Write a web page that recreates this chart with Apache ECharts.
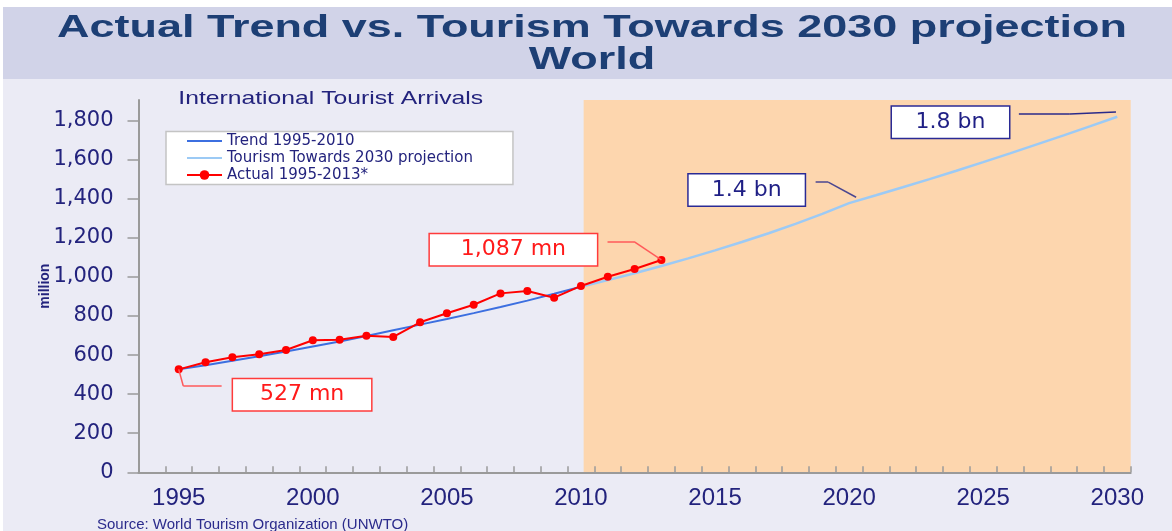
<!DOCTYPE html>
<html>
<head>
<meta charset="utf-8">
<script src="https://cdn.jsdelivr.net/npm/echarts@6/dist/echarts.min.js"></script>
<style>
  html, body { margin: 0; padding: 0; background: #ffffff; }
  #chart { width: 1172px; height: 531px; }
</style>
</head>
<body>
<div id="chart"></div>
<script>
// actual arrivals (million)
var actualYears = [1995, 1996, 1997, 1998, 1999, 2000, 2001, 2002, 2003, 2004, 2005, 2006, 2007, 2008, 2009, 2010, 2011, 2012, 2013];
var actualValues = [527, 563, 589, 604, 626, 676, 679, 699, 693, 768, 814, 858, 916, 928, 894, 954, 1001, 1041, 1087];

// trend 1995-2010
var trendYears = [1995, 1996, 1997, 1998, 1999, 2000, 2001, 2002, 2003, 2004, 2005, 2006, 2007, 2008, 2009, 2010];
var trendValues = [527, 548, 571, 594, 618, 644, 670, 698, 727, 756, 785, 815, 846, 879, 914, 950];

// Tourism Towards 2030 projection
var projYears = [2010, 2011, 2012, 2013, 2014, 2015, 2016, 2017, 2018, 2019, 2020, 2021, 2022, 2023, 2024, 2025, 2026, 2027, 2028, 2029, 2030];
var projValues = [950, 984, 1019, 1056, 1095, 1136, 1179, 1224, 1272, 1323, 1378, 1418, 1459, 1501, 1544, 1588, 1633, 1679, 1725, 1772, 1820];

// axis labels
var xLabelYears = [1995, 2000, 2005, 2010, 2015, 2020, 2025, 2030];
var xTickYears = Array.from({ length: 37 }, function (_, i) { return 1994.5 + i; });

// callouts
var calloutTexts = ['527 mn', '1,087 mn', '1.4 bn', '1.8 bn'];

function pairs(xs, ys) {
  return xs.map(function (x, i) { return [x, ys[i]]; });
}

var navy = '#23237d';
var redBox = {
  show: true, position: 'inside', color: '#ff1a1a',
  fontFamily: 'DejaVu Sans', fontSize: 22,
  backgroundColor: '#ffffff', borderColor: '#ff3b3b', borderWidth: 1.5,
  height: 31, lineHeight: 31, align: 'center', verticalAlign: 'middle', padding: 0
};
var navyBox = {
  show: true, position: 'inside', color: '#1f1f85',
  fontFamily: 'DejaVu Sans', fontSize: 22,
  backgroundColor: '#ffffff', borderColor: '#2a2a95', borderWidth: 1.5,
  height: 31, lineHeight: 31, align: 'center', verticalAlign: 'middle', padding: 0
};
function leader(a, b, color) {
  return [{ coord: a, lineStyle: { color: color, width: 1.5, type: 'solid' } }, { coord: b }];
}
var noDot = { color: 'rgba(0,0,0,0)', borderWidth: 0 };

var chart = echarts.init(document.getElementById('chart'));
chart.setOption({
  animation: false,
  backgroundColor: '#ebebf5',
  graphic: [
    { type: 'rect', left: 0, top: 0, shape: { width: 1172, height: 7 }, style: { fill: '#ffffff' }, silent: true },
    { type: 'rect', left: 0, top: 0, shape: { width: 3, height: 531 }, style: { fill: '#ffffff' }, silent: true },
    { type: 'rect', left: 3, top: 7, shape: { width: 1169, height: 72 }, style: { fill: '#d1d3e8' }, silent: true },
    {
      type: 'text', x: 592, y: 28.5, scaleX: 1.45, silent: true,
      style: { text: 'Actual Trend vs. Tourism Towards 2030 projection', font: 'bold 31px "Liberation Sans", Arial, sans-serif',
        fill: '#1d3f75', align: 'center', verticalAlign: 'middle', textAlign: 'center', textVerticalAlign: 'middle' }
    },
    {
      type: 'text', x: 592, y: 60, scaleX: 1.45, silent: true,
      style: { text: 'World', font: 'bold 31px "Liberation Sans", Arial, sans-serif',
        fill: '#1d3f75', align: 'center', verticalAlign: 'middle', textAlign: 'center', textVerticalAlign: 'middle' }
    },
    {
      type: 'text', x: 330.7, y: 99, scaleX: 1.3, silent: true,
      style: { text: 'International Tourist Arrivals', font: '19px "Liberation Sans", Arial, sans-serif',
        fill: navy, align: 'center', verticalAlign: 'middle', textAlign: 'center', textVerticalAlign: 'middle' }
    },
    {
      type: 'text', x: 97, y: 524.5, silent: true,
      style: { text: 'Source: World Tourism Organization (UNWTO)', font: '15px "Liberation Sans", Arial, sans-serif',
        fill: '#2b2b8c', align: 'left', verticalAlign: 'middle', textAlign: 'left', textVerticalAlign: 'middle' }
    }
  ],
  legend: {
    left: 166, top: 131.5, orient: 'vertical',
    backgroundColor: '#ffffff', borderColor: '#c4c4c4', borderWidth: 1.5, borderRadius: 0,
    padding: [2, 40, 2, 20], itemWidth: 35, itemHeight: 12, itemGap: 2,
    textStyle: { fontFamily: 'DejaVu Sans', fontSize: 15, color: navy },
    data: [
      { name: 'Trend 1995-2010', itemStyle: noDot },
      { name: 'Tourism Towards 2030 projection', itemStyle: noDot },
      { name: 'Actual 1995-2013*' }
    ]
  },
  grid: { left: 138.5, right: 41.3, top: 100, bottom: 58.7, containLabel: false },
  xAxis: {
    type: 'value', min: 1993.5, max: 2030.5, z: 5,
    axisLine: { show: true, lineStyle: { color: '#9a9a9a', width: 2 } },
    axisTick: { show: true, inside: true, length: 6, customValues: xTickYears, lineStyle: { color: '#9a9a9a', width: 1.5 } },
    axisLabel: {
      customValues: xLabelYears, margin: 14, fontFamily: 'Liberation Sans, Arial', fontSize: 24, color: navy,
      formatter: function (v) { return String(v); }
    },
    splitLine: { show: false }
  },
  yAxis: {
    type: 'value', min: 0, max: 1906, interval: 200, z: 5,
    name: 'million', nameLocation: 'middle', nameRotate: 90, nameGap: 86, nameMoveOverlap: false,
    nameTextStyle: { fontFamily: 'Liberation Sans, Arial', fontSize: 14, fontWeight: 'bold', color: navy },
    axisLine: { show: true, lineStyle: { color: '#9a9a9a', width: 2 } },
    axisTick: { show: true, inside: false, length: 11, lineStyle: { color: '#9a9a9a', width: 1.5 } },
    axisLabel: {
      margin: 25, fontFamily: 'DejaVu Sans', fontSize: 21, color: navy, showMaxLabel: false,
      formatter: function (v) { return v.toLocaleString('en-US'); }
    },
    splitLine: { show: false }
  },
  series: [
    {
      name: 'Trend 1995-2010', type: 'line', z: 3,
      data: pairs(trendYears, trendValues),
      symbol: 'none', lineStyle: { color: '#3c6fe0', width: 2 }, itemStyle: { color: '#3c6fe0' }
    },
    {
      name: 'Tourism Towards 2030 projection', type: 'line', z: 2,
      data: pairs(projYears, projValues),
      symbol: 'none', lineStyle: { color: '#9ccaf5', width: 2.5 }, itemStyle: { color: '#9ccaf5' },
      markArea: {
        silent: true, itemStyle: { color: '#fdd6ae' },
        data: [[{ coord: [2010.1, 0] }, { coord: [2030.5, 1906] }]]
      },
      markLine: {
        silent: true, symbol: ['none', 'none'], label: { show: false },
        data: [
          leader([2018.75, 1486], [2019.22, 1486], '#4a4690'),
          leader([2019.22, 1486], [2020.26, 1408], '#4a4690'),
          leader([2026.33, 1834], [2028.23, 1834], '#2a2a8a'),
          leader([2028.23, 1834], [2029.95, 1845], '#2a2a8a')
        ]
      },
      markPoint: {
        silent: true, symbol: 'rect', symbolSize: 1, itemStyle: { color: 'rgba(0,0,0,0)' },
        data: [
          { coord: [2016.18, 1445], label: Object.assign({}, navyBox, { width: 116, formatter: calloutTexts[2] }) },
          { coord: [2023.78, 1792], label: Object.assign({}, navyBox, { width: 117, formatter: calloutTexts[3] }) }
        ]
      }
    },
    {
      name: 'Actual 1995-2013*', type: 'line', z: 4,
      data: pairs(actualYears, actualValues),
      symbol: 'circle', symbolSize: 8, showSymbol: true,
      lineStyle: { color: '#ff0000', width: 2 }, itemStyle: { color: '#ff0000' },
      markLine: {
        silent: true, symbol: ['none', 'none'], label: { show: false },
        data: [
          leader([1995, 527], [1995.17, 442], '#ff5a5a'),
          leader([1995.17, 442], [1996.6, 442], '#ff5a5a'),
          leader([2010.99, 1181], [2011.98, 1181], '#ff5a5a'),
          leader([2011.98, 1181], [2013, 1087], '#ff5a5a')
        ]
      },
      markPoint: {
        silent: true, symbol: 'rect', symbolSize: 1, itemStyle: { color: 'rgba(0,0,0,0)' },
        data: [
          { coord: [1999.6, 397], label: Object.assign({}, redBox, { width: 138, formatter: calloutTexts[0] }) },
          { coord: [2007.48, 1139.5], label: Object.assign({}, redBox, { width: 167, formatter: calloutTexts[1] }) }
        ]
      }
    }
  ]
});
</script>
</body>
</html>
